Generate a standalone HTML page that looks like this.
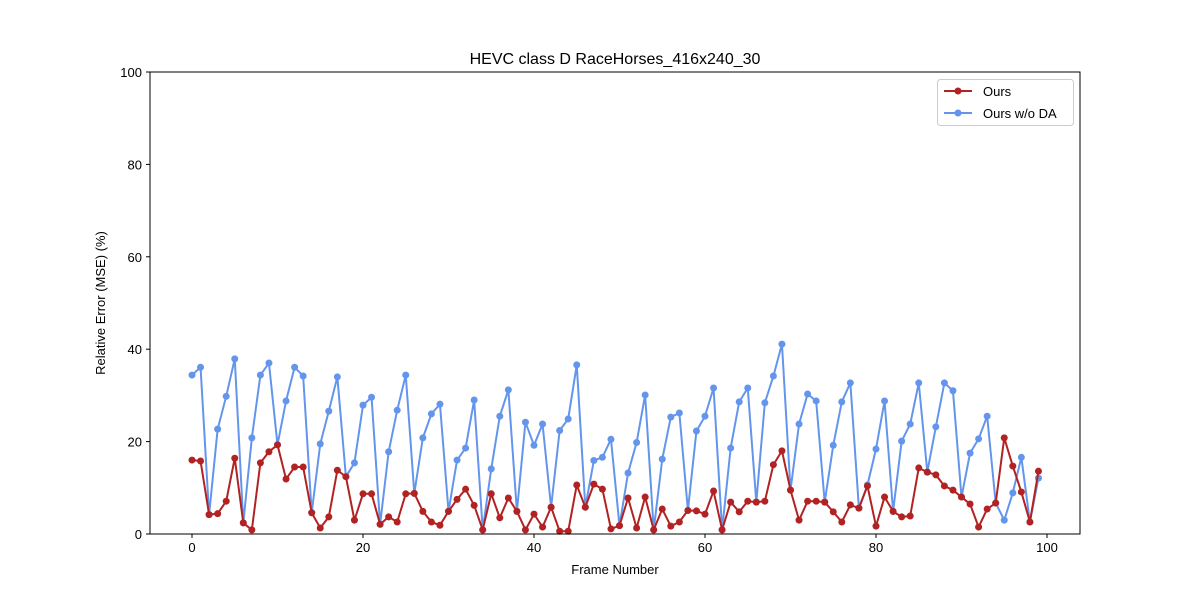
<!DOCTYPE html>
<html><head><meta charset="utf-8"><style>
body{margin:0;background:#fff}
svg text{font-family:"Liberation Sans","DejaVu Sans",sans-serif;fill:#000}
</style></head><body>
<svg id="chart" width="1200" height="600" xmlns="http://www.w3.org/2000/svg">
<rect width="1200" height="600" fill="#fff"/>
<text x="615" y="64" font-size="16" text-anchor="middle">HEVC class D RaceHorses_416x240_30</text>
<g id="plot"></g>
<text x="615" y="574" font-size="13" text-anchor="middle">Frame Number</text>
<text transform="translate(105,303) rotate(-90)" font-size="13" text-anchor="middle">Relative Error (MSE) (%)</text>
<g>
<rect x="937.5" y="79.5" width="136" height="46" rx="3" fill="#fff" stroke="#ccc"/>
<g>
<line x1="944" y1="91" x2="972" y2="91" stroke="#b22222" stroke-width="2"/><circle cx="958" cy="91" r="3.5" fill="#b22222"/>
<text x="983" y="96" font-size="13">Ours</text></g>
<g>
<line x1="944" y1="113" x2="972" y2="113" stroke="#6495ed" stroke-width="2"/><circle cx="958" cy="113" r="3.5" fill="#6495ed"/>
<text x="983" y="118" font-size="13">Ours w/o DA</text></g>
</g>
</svg>
<script>
const xTicks=[0,20,40,60,80,100];
const yTicks=[0,20,40,60,80,100];
const ours=[16.0,15.8,4.2,4.4,7.1,16.4,2.4,0.9,15.4,17.8,19.3,11.9,14.5,14.5,4.6,1.3,3.7,13.8,12.4,3.0,8.7,8.7,2.1,3.7,2.6,8.7,8.8,4.9,2.6,1.9,4.9,7.5,9.7,6.2,0.9,8.7,3.5,7.8,4.9,0.9,4.3,1.5,5.8,0.6,0.6,10.6,5.8,10.8,9.7,1.1,1.8,7.8,1.3,8.0,0.9,5.4,1.7,2.6,5.1,5.0,4.3,9.3,0.9,6.9,4.8,7.1,6.9,7.1,15.0,18.0,9.5,3.0,7.1,7.1,6.9,4.8,2.6,6.3,5.6,10.4,1.7,8.0,4.9,3.7,3.9,14.3,13.4,12.8,10.4,9.5,8.0,6.5,1.5,5.4,6.7,20.8,14.7,9.1,2.6,13.6];
const oursNoDA=[34.4,36.1,4.2,22.7,29.8,37.9,2.4,20.8,34.4,37.0,19.3,28.8,36.1,34.2,4.6,19.5,26.6,34.0,12.4,15.4,27.9,29.6,2.1,17.8,26.8,34.4,8.8,20.8,26.0,28.1,4.9,16.0,18.6,29.0,0.9,14.1,25.5,31.2,4.9,24.2,19.2,23.8,5.8,22.4,24.9,36.6,5.8,15.9,16.6,20.5,1.8,13.2,19.8,30.1,0.9,16.2,25.3,26.2,5.1,22.3,25.5,31.6,0.9,18.6,28.6,31.6,6.9,28.4,34.2,41.1,9.5,23.8,30.3,28.8,6.9,19.2,28.6,32.7,5.6,10.6,18.4,28.8,4.9,20.1,23.8,32.7,13.4,23.2,32.7,31.0,8.0,17.5,20.6,25.5,6.7,3.0,8.9,16.6,2.6,12.1];
const NS="http://www.w3.org/2000/svg";
const L=150,R=1080,T=72,B=534;
function xs(v){return 192+v*8.55;}
function ys(v){return B-(v/100)*(B-T);}
const g=document.getElementById('plot');
function mk(t,a){const e=document.createElementNS(NS,t);for(const k in a)e.setAttribute(k,a[k]);g.appendChild(e);return e;}
function series(vals,color,name){
  const pts=vals.map((v,i)=>xs(i)+','+ys(v)).join(' ');
  const pl=mk('polyline',{points:pts,fill:'none',stroke:color,'stroke-width':2});
  
  
  vals.forEach((v,i)=>{const c=mk('circle',{cx:xs(i),cy:ys(v),r:3.5,fill:color});
    
    });
}
series(oursNoDA,'#6495ed','ours-wo-da');
series(ours,'#b22222','ours');
const fr=mk('rect',{x:L,y:T,width:R-L,height:B-T,fill:'none',stroke:'#000','stroke-width':1});


xTicks.forEach(v=>{const x=xs(v);
  const tk=mk('line',{x1:x,y1:B,x2:x,y2:B+4,stroke:'#000'});
  
  
  const t=mk('text',{x:x,y:B+18,'font-size':13,'text-anchor':'middle'});t.textContent=v;
  
  });
yTicks.forEach(v=>{const y=ys(v);
  const tk=mk('line',{x1:L-4,y1:y,x2:L,y2:y,stroke:'#000'});
  
  
  const t=mk('text',{x:L-8,y:y+5,'font-size':13,'text-anchor':'end'});t.textContent=v;
  
  });
</script>
</body></html>
